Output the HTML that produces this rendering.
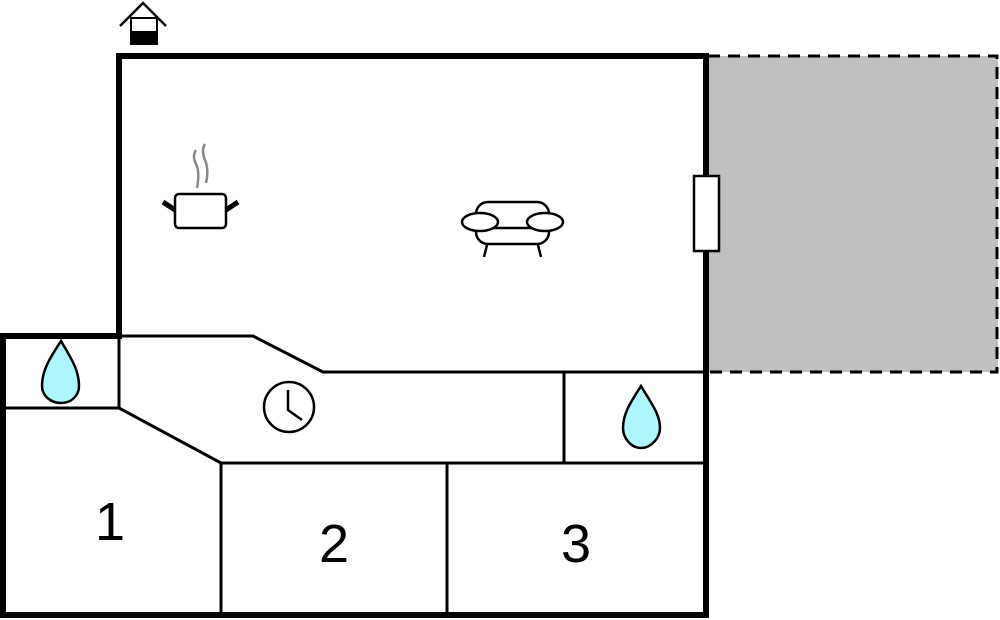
<!DOCTYPE html>
<html><head><meta charset="utf-8"><style>
html,body{margin:0;padding:0;background:#fff;width:1000px;height:620px;overflow:hidden}
</style></head><body>
<svg width="1000" height="620" viewBox="0 0 1000 620" xmlns="http://www.w3.org/2000/svg">
<rect x="708" y="56" width="290" height="316" fill="#c0c0c0"/>
<path d="M708 56 H997 V372 H708" fill="none" stroke="#000" stroke-width="3" stroke-dasharray="12 8"/>
<g fill="none" stroke="#000" stroke-width="3">
<path d="M119 336 H253 L323 372 H706"/>
<path d="M5 408 H119 L221 463 H706"/>
<path d="M119 336 V408"/>
<path d="M221 463 V615"/>
<path d="M447 463 V615"/>
<path d="M564 372 V463"/>
</g>
<g fill="none" stroke="#000" stroke-width="6" stroke-linecap="square">
<path d="M119 336 V56 H706 V615 H3 V336 H119"/>
</g>
<rect x="694" y="176" width="25" height="75" fill="#fff" stroke="#000" stroke-width="2.5"/>
<path d="M120 26 L143 3 L166 26" fill="none" stroke="#000" stroke-width="2.5"/>
<rect x="131" y="18" width="26" height="26" fill="#fff" stroke="#000" stroke-width="2"/>
<rect x="130" y="31" width="28" height="14" fill="#000"/>
<g stroke="#888" stroke-width="2.5" fill="none">
<path d="M196 150 Q192 156 196 164 Q200 172 197 188"/>
<path d="M205 144 Q201 150 205 160 Q209 170 206 183"/>
</g>
<rect x="175" y="194" width="51" height="34" rx="4" fill="#fff" stroke="#000" stroke-width="2.5"/>
<path d="M163 202 L175 210 M238 202 L226 210" stroke="#000" stroke-width="5"/>
<g fill="#fff" stroke="#000" stroke-width="2.5">
<rect x="476" y="202" width="73" height="42" rx="12"/>
<path d="M487 245 L484 257 M538 245 L541 257"/>
<path d="M488 228 H537"/>
<ellipse cx="480" cy="222" rx="18" ry="9"/>
<ellipse cx="545" cy="222" rx="18" ry="9"/>
</g>
<g fill="#aef6fb" stroke="#000" stroke-width="2.5">
<path d="M61 341 C50 358 42 370 42 386 C42 396 51 403 61 403 C71 403 79 396 79 386 C79 370 71 358 61 341 Z"/>
<path d="M641 386 C630 403 623 414 623 428 C623 438 631 448 641 448 C651 448 660 438 660 428 C660 414 651 403 641 386 Z"/>
</g>
<circle cx="289" cy="407" r="25" fill="#fff" stroke="#000" stroke-width="2.5"/>
<path d="M288 390 V410 L302 420" fill="none" stroke="#000" stroke-width="2.5"/>
<g font-family="Liberation Sans, sans-serif" font-size="54" fill="#000" text-anchor="middle">
<text x="110" y="540">1</text>
<text x="334" y="562">2</text>
<text x="576" y="562">3</text>
</g>
</svg>
</body></html>
